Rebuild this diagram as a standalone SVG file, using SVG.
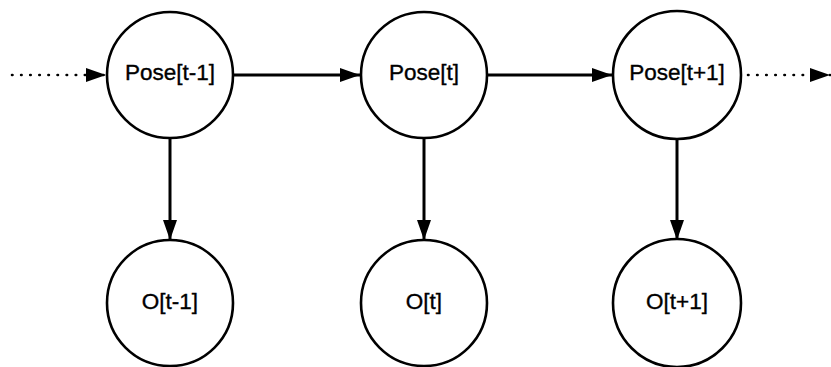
<svg xmlns="http://www.w3.org/2000/svg" width="831" height="367" viewBox="0 0 831 367">
  <style>
    .node circle { fill: #ffffff; stroke: #000000; stroke-width: 2.6; }
    .node text { font-family: "Liberation Sans", Arial, sans-serif; font-size: 22.5px; fill: #000000; stroke: #000000; stroke-width: 0.35; text-anchor: middle; dominant-baseline: central; }
    .edge { stroke: #000000; stroke-width: 3; fill: none; marker-end: url(#arrow); }
    .dotted { stroke-width: 2.6; stroke-dasharray: 0.5 8.6; stroke-linecap: round; }
  </style>
  <defs>
    <marker id="arrow" viewBox="0 0 20 14" refX="20" refY="7" markerWidth="20" markerHeight="14" markerUnits="userSpaceOnUse" orient="auto">
      <path d="M0,0 L20,7 L0,14 Z" fill="#000000"/>
    </marker>
  </defs>
  <rect width="831" height="367" fill="#ffffff"/>

  <!-- connectors -->
  <g id="edges">
    <line class="edge dotted" x1="12" y1="75" x2="106" y2="75"/>
    <line class="edge" x1="234" y1="75" x2="360" y2="75"/>
    <line class="edge" x1="488" y1="75" x2="612" y2="75"/>
    <line class="edge dotted" x1="748" y1="75" x2="830" y2="75"/>
    <line class="edge" x1="170" y1="138" x2="170" y2="240"/>
    <line class="edge" x1="424" y1="138" x2="424" y2="240"/>
    <line class="edge" x1="677" y1="138" x2="677" y2="240"/>
  </g>

  <!-- pose nodes -->
  <g id="pose-t-1" class="node">
    <circle cx="170" cy="75" r="63"/>
    <text x="170" y="72">Pose[t-1]</text>
  </g>
  <g id="pose-t" class="node">
    <circle cx="424" cy="75" r="63"/>
    <text x="424" y="72">Pose[t]</text>
  </g>
  <g id="pose-t+1" class="node">
    <circle cx="677" cy="75" r="64"/>
    <text x="677" y="72">Pose[t+1]</text>
  </g>

  <!-- observation nodes -->
  <g id="obs-t-1" class="node">
    <circle cx="170" cy="303" r="63"/>
    <text x="170" y="301">O[t-1]</text>
  </g>
  <g id="obs-t" class="node">
    <circle cx="424" cy="303" r="63"/>
    <text x="424" y="301">O[t]</text>
  </g>
  <g id="obs-t+1" class="node">
    <circle cx="677" cy="303" r="64"/>
    <text x="677" y="301">O[t+1]</text>
  </g>
</svg>
